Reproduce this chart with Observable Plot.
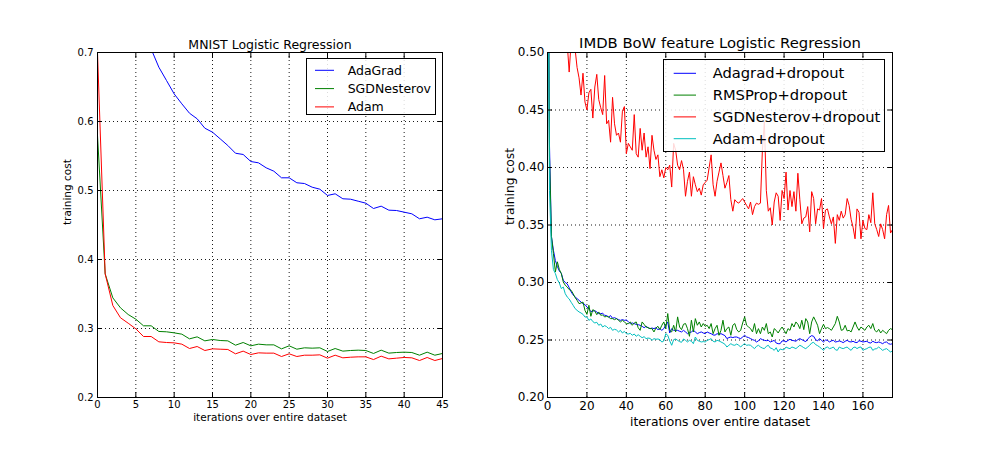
<!DOCTYPE html>
<html><head><meta charset="utf-8">
<script src="https://cdn.jsdelivr.net/npm/d3@7"></script>
<script src="https://cdn.jsdelivr.net/npm/@observablehq/plot@0.6"></script>
<style>
body{margin:0;background:#fff;}
#wrap{position:relative;width:995px;height:452px;font-family:"DejaVu Sans",sans-serif;overflow:hidden;background:#fff;}
#left,#right{position:absolute;top:0;}
#left{left:0;}#right{left:497px;}
.legend{position:absolute;border:1px solid #000;background:rgba(255,255,255,0.85);box-sizing:border-box;}
.legend .t{position:absolute;white-space:nowrap;color:#000;}
.legend svg{position:absolute;left:0;top:0;overflow:visible;}
</style></head>
<body><div id="wrap"><div id="left"></div><div id="right"></div></div>
<script>
// ---------- MNIST panel data ----------
const mnistTitle = "MNIST Logistic Regression";
const mnistNames = ["AdaGrad", "SGDNesterov", "Adam"];
const mnistColors = ["#0000ff", "#008000", "#ff0000"];
const mnistXTicks = [0, 5, 10, 15, 20, 25, 30, 35, 40, 45];
const mnistYTicks = [0.2, 0.3, 0.4, 0.5, 0.6, 0.7];
const mnistAdaGrad = [1.25, 1.0, 0.9, 0.83, 0.78, 0.745, 0.72, 0.705, 0.6787, 0.6594,
  0.640, 0.6256, 0.612, 0.6039, 0.5903, 0.5845, 0.5749, 0.5652, 0.554, 0.5522,
  0.542, 0.5401, 0.5329, 0.528, 0.5184, 0.5184, 0.5112, 0.5101, 0.5048, 0.5019,
  0.4928, 0.4952, 0.488, 0.4874, 0.4845, 0.4816, 0.4739, 0.4773, 0.4715, 0.471,
  0.4686, 0.4662, 0.459, 0.4613, 0.4575, 0.459];
const mnistSGD = [0.58, 0.3792, 0.3444, 0.3299, 0.3203, 0.3135, 0.3039, 0.3039, 0.2957, 0.2952,
  0.2937, 0.2918, 0.285, 0.2879, 0.2821, 0.2841, 0.2826, 0.2821, 0.2758, 0.2797,
  0.2749, 0.2773, 0.2763, 0.2763, 0.2705, 0.2749, 0.27, 0.272, 0.2715, 0.272,
  0.2667, 0.271, 0.2672, 0.2681, 0.2686, 0.2681, 0.2638, 0.2686, 0.2643, 0.2652,
  0.2657, 0.2652, 0.2613, 0.2657, 0.2613, 0.2638];
const mnistAdam = [0.70, 0.3792, 0.3333, 0.3155, 0.3077, 0.2995, 0.2884, 0.2884, 0.2807, 0.2797,
  0.2792, 0.2773, 0.271, 0.2739, 0.2681, 0.2705, 0.27, 0.2696, 0.2633, 0.2672,
  0.2623, 0.2647, 0.2643, 0.2643, 0.2594, 0.2633, 0.2594, 0.2613, 0.2613, 0.2618,
  0.257, 0.2613, 0.2575, 0.2584, 0.2589, 0.2589, 0.255, 0.2599, 0.256, 0.257,
  0.258, 0.2575, 0.2536, 0.258, 0.2536, 0.2565];

// ---------- IMDB panel data ----------
const imdbTitle = "IMDB BoW feature Logistic Regression";
const imdbNames = ["Adagrad+dropout", "RMSProp+dropout", "SGDNesterov+dropout", "Adam+dropout"];
const imdbColors = ["#0000ff", "#008000", "#ff0000", "#00bfbf"];
const imdbXTicks = [0, 20, 40, 60, 80, 100, 120, 140, 160];
const imdbYTicks = [0.20, 0.25, 0.30, 0.35, 0.40, 0.45, 0.50];
const imdbAdagrad = [0.69, 0.42, 0.340, 0.328, 0.319, 0.314, 0.310, 0.308, 0.302, 0.300,
  0.2988, 0.2956, 0.2918, 0.2892, 0.2874, 0.286, 0.2845, 0.283, 0.2816, 0.2808,
  0.2787, 0.277, 0.2747, 0.2752, 0.2755, 0.2744, 0.2729, 0.2729, 0.2732, 0.2715,
  0.2712, 0.27, 0.2712, 0.2689, 0.2694, 0.2686, 0.2677, 0.2671, 0.2677, 0.2671,
  0.2674, 0.2659, 0.2642, 0.2648, 0.2642, 0.2636, 0.2633, 0.2628, 0.2619, 0.2607,
  0.2619, 0.2607, 0.2599, 0.2604, 0.2599, 0.2607, 0.259, 0.2599, 0.2584, 0.2599,
  0.263, 0.2657, 0.2561, 0.2599, 0.2584, 0.2584, 0.2584, 0.2576, 0.257, 0.2584,
  0.257, 0.2555, 0.2564, 0.257, 0.2584, 0.257, 0.2555, 0.2564, 0.257, 0.2561,
  0.2555, 0.257, 0.2561, 0.2555, 0.2544, 0.2542, 0.2555, 0.255, 0.2555, 0.2547,
  0.2538, 0.2512, 0.2521, 0.2526, 0.2521, 0.2526, 0.2526, 0.2518, 0.2512, 0.2526,
  0.2541, 0.2526, 0.2521, 0.2512, 0.2503, 0.2497, 0.2483, 0.2492, 0.2512, 0.2503,
  0.2497, 0.2494, 0.2497, 0.2483, 0.2489, 0.2497, 0.2474, 0.2468, 0.2468, 0.2492,
  0.2492, 0.2483, 0.2497, 0.2506, 0.2497, 0.2494, 0.2489, 0.2503, 0.2512, 0.2503,
  0.2494, 0.2486, 0.2509, 0.2526, 0.2538, 0.2532, 0.2503, 0.2492, 0.2512, 0.2497,
  0.2483, 0.25, 0.2497, 0.2483, 0.2492, 0.2497, 0.2483, 0.2486, 0.2492, 0.2486,
  0.2477, 0.2489, 0.2497, 0.2486, 0.2483, 0.2489, 0.248, 0.2477, 0.2494, 0.2489,
  0.2483, 0.2486, 0.2489, 0.2477, 0.2474, 0.2489, 0.248, 0.2477, 0.2483, 0.2477,
  0.2468, 0.248, 0.2483, 0.2468, 0.2463, 0.2468];
const imdbRMSProp = [0.69, 0.41, 0.340, 0.3252, 0.3092, 0.318, 0.3113, 0.3078, 0.3005, 0.2976,
  0.2961, 0.2938, 0.2932, 0.2903, 0.2869, 0.2845, 0.2816, 0.2822, 0.283, 0.2758,
  0.2723, 0.2802, 0.2706, 0.2764, 0.2752, 0.272, 0.2744, 0.2715, 0.2718, 0.27,
  0.2706, 0.27, 0.2686, 0.2686, 0.2677, 0.2686, 0.2671, 0.2657, 0.2671, 0.2657,
  0.2642, 0.2642, 0.2657, 0.2628, 0.2648, 0.2657, 0.2607, 0.2584, 0.2657, 0.2636,
  0.2613, 0.2607, 0.2599, 0.2599, 0.257, 0.2604, 0.2619, 0.259, 0.2628, 0.2657,
  0.2599, 0.273, 0.2584, 0.257, 0.2628, 0.257, 0.2701, 0.2613, 0.259, 0.2637,
  0.2643, 0.2599, 0.2532, 0.2672, 0.257, 0.2686, 0.2628, 0.2657, 0.2613, 0.2643,
  0.2619, 0.2628, 0.2599, 0.2643, 0.2555, 0.2599, 0.2628, 0.2541, 0.2584, 0.2672,
  0.257, 0.2599, 0.2613, 0.2541, 0.2628, 0.2643, 0.259, 0.257, 0.2584, 0.2648,
  0.2701, 0.2628, 0.2613, 0.2599, 0.257, 0.2643, 0.2555, 0.2599, 0.2555, 0.2613,
  0.2584, 0.2643, 0.2555, 0.257, 0.2526, 0.2599, 0.2584, 0.2561, 0.259, 0.2613,
  0.2584, 0.2555, 0.2599, 0.2584, 0.2643, 0.2613, 0.2657, 0.2637, 0.2599, 0.2672,
  0.259, 0.2686, 0.2657, 0.2555, 0.2657, 0.2701, 0.2666, 0.2628, 0.2555, 0.2599,
  0.2637, 0.2599, 0.2608, 0.2599, 0.2584, 0.2613, 0.2643, 0.2706, 0.2657, 0.2584,
  0.259, 0.2628, 0.2579, 0.2584, 0.257, 0.2613, 0.2657, 0.2613, 0.2584, 0.2613,
  0.2599, 0.2584, 0.2613, 0.2628, 0.2599, 0.2643, 0.2584, 0.257, 0.2593, 0.2561,
  0.2584, 0.257, 0.2555, 0.2584, 0.2599, 0.259];
const imdbSGD = [0.70, 0.62, 0.58, 0.56, 0.545, 0.535, 0.527, 0.52, 0.515, 0.512,
  0.508, 0.483, 0.51, 0.508, 0.503, 0.487, 0.478, 0.463, 0.482, 0.457,
  0.450, 0.465, 0.468, 0.443, 0.470, 0.481, 0.459, 0.452, 0.446, 0.480,
  0.438, 0.441, 0.422, 0.461, 0.438, 0.428, 0.430, 0.422, 0.449, 0.453,
  0.412, 0.421, 0.418, 0.415, 0.446, 0.412, 0.409, 0.434, 0.415, 0.430,
  0.409, 0.418, 0.399, 0.428, 0.415, 0.407, 0.411, 0.392, 0.398, 0.391,
  0.400, 0.398, 0.402, 0.383, 0.421, 0.415, 0.402, 0.398, 0.406, 0.398,
  0.375, 0.388, 0.396, 0.375, 0.392, 0.385, 0.379, 0.382, 0.376, 0.385,
  0.387, 0.389, 0.400, 0.411, 0.385, 0.375, 0.388, 0.396, 0.404, 0.393,
  0.382, 0.387, 0.393, 0.372, 0.362, 0.372, 0.370, 0.369, 0.371, 0.373,
  0.370, 0.367, 0.364, 0.370, 0.359, 0.366, 0.369, 0.368, 0.369, 0.415,
  0.440, 0.380, 0.362, 0.365, 0.350, 0.370, 0.378, 0.375, 0.354, 0.380,
  0.373, 0.396, 0.363, 0.380, 0.366, 0.379, 0.362, 0.395, 0.372, 0.351,
  0.356, 0.357, 0.366, 0.344, 0.379, 0.373, 0.351, 0.364, 0.363, 0.373,
  0.347, 0.363, 0.364, 0.357, 0.351, 0.357, 0.334, 0.359, 0.354, 0.362,
  0.356, 0.359, 0.373, 0.367, 0.355, 0.348, 0.338, 0.364, 0.361, 0.338,
  0.354, 0.347, 0.346, 0.359, 0.352, 0.378, 0.351, 0.346, 0.340, 0.351,
  0.346, 0.338, 0.359, 0.367, 0.343, 0.346];
const imdbAdam = [0.69, 0.38, 0.328, 0.3113, 0.3078, 0.3025, 0.2996, 0.2947, 0.2961, 0.2903,
  0.2874, 0.2857, 0.2828, 0.2802, 0.2773, 0.2758, 0.2744, 0.2735, 0.2723, 0.27,
  0.27, 0.2671, 0.2683, 0.266, 0.2648, 0.2654, 0.2628, 0.2639, 0.2613, 0.2625,
  0.2616, 0.2599, 0.261, 0.2584, 0.2593, 0.2587, 0.257, 0.2584, 0.2561, 0.2575,
  0.2555, 0.2552, 0.2558, 0.2541, 0.2552, 0.2532, 0.2546, 0.2532, 0.252, 0.2529,
  0.2512, 0.2517, 0.2514, 0.2497, 0.2512, 0.2506, 0.2509, 0.2503, 0.2482, 0.2492,
  0.2555, 0.2541, 0.2492, 0.2454, 0.2503, 0.2509, 0.2497, 0.2486, 0.248, 0.2509,
  0.2497, 0.2483, 0.2497, 0.2489, 0.2468, 0.2526, 0.2497, 0.2489, 0.2483, 0.2486,
  0.2483, 0.2497, 0.2503, 0.2512, 0.2489, 0.2483, 0.2497, 0.2492, 0.2483, 0.2474,
  0.2463, 0.2439, 0.2454, 0.2468, 0.2457, 0.2454, 0.2465, 0.2454, 0.2439, 0.2457,
  0.2468, 0.2454, 0.2457, 0.2454, 0.2439, 0.2425, 0.2445, 0.2454, 0.2439, 0.243,
  0.2425, 0.2445, 0.2454, 0.243, 0.2425, 0.241, 0.2433, 0.2396, 0.2422, 0.2416,
  0.2416, 0.2439, 0.243, 0.2425, 0.2439, 0.2433, 0.2425, 0.2439, 0.2454, 0.2445,
  0.2433, 0.2425, 0.2439, 0.2454, 0.2474, 0.248, 0.246, 0.2451, 0.2439, 0.2425,
  0.241, 0.2433, 0.2439, 0.2425, 0.243, 0.2439, 0.2416, 0.241, 0.2439, 0.243,
  0.2425, 0.2433, 0.2439, 0.2422, 0.241, 0.2433, 0.2439, 0.2425, 0.2436, 0.2439,
  0.241, 0.2419, 0.2425, 0.2436, 0.2439, 0.241, 0.2422, 0.2425, 0.2439, 0.2425,
  0.241, 0.2419, 0.2425, 0.241, 0.2396, 0.2405];

const xLabelText = "iterations over entire dataset";
const yLabelText = "training cost";

function toRows(values, name) {
  return values.map((v, i) => ({x: i, y: v, name}));
}

function panel(cfg) {
  const grid = {stroke: "#000", strokeOpacity: 1, strokeWidth: 0.9, strokeDasharray: "1,3"};
  const lines = cfg.series.map((s, i) => Plot.line(toRows(s, cfg.names[i]), {
    x: "x", y: "y", stroke: cfg.colors[i], strokeWidth: 1, clip: true
  }));
  return Plot.plot({
    width: cfg.width, height: 452,
    marginLeft: cfg.ml, marginRight: cfg.mr, marginTop: 52, marginBottom: 55,
    style: {fontFamily: "DejaVu Sans, sans-serif", fontSize: cfg.tickFont + "px", color: "#000", background: "transparent", overflow: "visible"},
    x: {domain: cfg.xDomain},
    y: {domain: cfg.yDomain},
    marks: [
      Plot.gridX(cfg.xTicks, grid),
      Plot.gridY(cfg.yTicks, grid),
      ...lines,
      Plot.frame({stroke: "#000", strokeWidth: 1}),
      Plot.axisX(cfg.xTicks, {anchor: "bottom", tickSize: -5, tickPadding: cfg.xPad, label: null, fontSize: cfg.tickFont}),
      Plot.axisX(cfg.xTicks, {anchor: "top", tickSize: -5, fill: "none", label: null}),
      Plot.axisY(cfg.yTicks, {anchor: "left", tickSize: -5, tickPadding: cfg.yPad, tickFormat: cfg.yFmt, label: null, fontSize: cfg.tickFont}),
      Plot.axisY(cfg.yTicks, {anchor: "right", tickSize: -5, fill: "none", label: null}),
      Plot.text([xLabelText], {text: d => d, frameAnchor: "bottom", lineAnchor: "middle", dy: cfg.xLabelDy, fontSize: cfg.labelFont, fill: "#000"}),
      Plot.text([yLabelText], {text: d => d, frameAnchor: "left", lineAnchor: "middle", dx: cfg.yLabelDx, rotate: -90, fontSize: cfg.labelFont, fill: "#000"}),
      Plot.text([cfg.title], {text: d => d, frameAnchor: "top", lineAnchor: "middle", dy: cfg.titleDy, fontSize: cfg.titleFont, fill: "#000"})
    ]
  });
}

function legend(container, names, colors, box) {
  const div = document.createElement("div");
  div.className = "legend";
  Object.assign(div.style, {left: box.left + "px", top: box.top + "px", width: box.w + "px", height: box.h + "px"});
  const ns = "http://www.w3.org/2000/svg";
  const svg = document.createElementNS(ns, "svg");
  svg.setAttribute("width", box.w); svg.setAttribute("height", box.h);
  names.forEach((n, i) => {
    const cy = box.y0 + box.dy * i;
    const ln = document.createElementNS(ns, "line");
    ln.setAttribute("x1", box.s0); ln.setAttribute("x2", box.s1);
    ln.setAttribute("y1", cy); ln.setAttribute("y2", cy);
    ln.setAttribute("stroke", colors[i]); ln.setAttribute("stroke-width", 1);
    svg.appendChild(ln);
    const t = document.createElement("div");
    t.className = "t";
    t.textContent = n;
    const lh = Math.round(box.font * 1.2);
    Object.assign(t.style, {left: box.tx + "px", top: (cy - lh / 2) + "px", fontSize: box.font + "px", lineHeight: lh + "px"});
    div.appendChild(t);
  });
  div.appendChild(svg);
  container.appendChild(div);
}

const wrap = document.getElementById("wrap");
document.getElementById("left").appendChild(panel({
  width: 497, ml: 97, mr: 55,
  xDomain: [0, 45], yDomain: [0.2, 0.7],
  xTicks: mnistXTicks, yTicks: mnistYTicks, yFmt: d3.format(".1f"),
  series: [mnistAdaGrad, mnistSGD, mnistAdam], names: mnistNames, colors: mnistColors,
  title: mnistTitle, tickFont: 10, labelFont: 10.5, titleFont: 12.5,
  xPad: 8, yPad: 9, xLabelDy: 20.5, yLabelDx: -30, titleDy: -8
}));
document.getElementById("right").appendChild(panel({
  width: 498, ml: 50, mr: 103,
  xDomain: [0, 175], yDomain: [0.2, 0.5],
  xTicks: imdbXTicks, yTicks: imdbYTicks, yFmt: d3.format(".2f"),
  series: [imdbAdagrad, imdbRMSProp, imdbSGD, imdbAdam], names: imdbNames, colors: imdbColors,
  title: imdbTitle, tickFont: 12, labelFont: 12.3, titleFont: 14.8,
  xPad: 9, yPad: 8, xLabelDy: 24.5, yLabelDx: -37, titleDy: -9
}));
legend(wrap, mnistNames, mnistColors, {left: 306, top: 58, w: 130, h: 57, y0: 11.3, dy: 18.3, s0: 8, s1: 27, tx: 40.7, font: 12.5});
legend(wrap, imdbNames, imdbColors, {left: 663, top: 59, w: 222, h: 93, y0: 13.3, dy: 21.8, s0: 9.7, s1: 32, tx: 48.7, font: 14.7});
</script>
</body></html>
